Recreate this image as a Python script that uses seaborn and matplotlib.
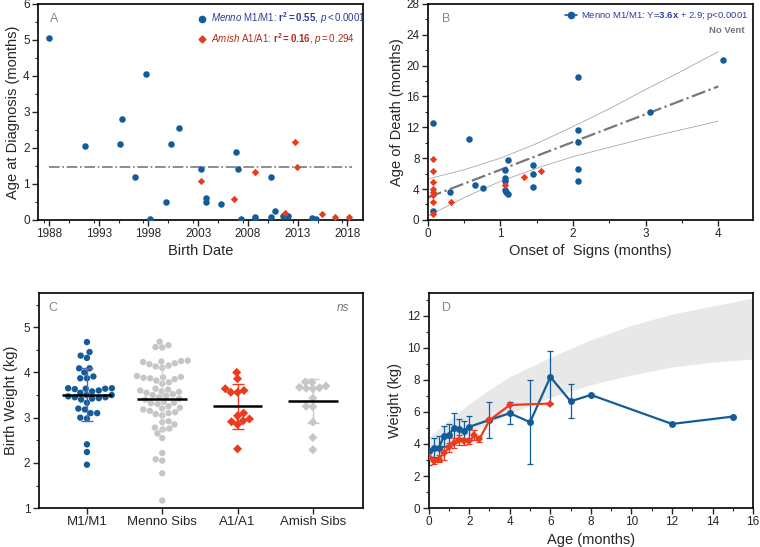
import numpy as np
import pandas as pd
import matplotlib
matplotlib.use('Agg')
import matplotlib.pyplot as plt
from matplotlib.lines import Line2D
from matplotlib.ticker import MultipleLocator
import seaborn as sns

sns.set_style('ticks')
plt.rcParams['font.family'] = ['Liberation Sans', 'DejaVu Sans']
plt.rcParams['mathtext.fontset'] = 'custom'
plt.rcParams['mathtext.rm'] = 'Liberation Sans'
plt.rcParams['mathtext.it'] = 'Liberation Sans:italic'
plt.rcParams['mathtext.bf'] = 'Liberation Sans:bold'

blue = '#135c99'
red = '#ee3a1c'
grey = '#c6c6c6'
navy_txt = '#2b3c9c'
red_txt = '#b02a1a'
label_grey = '#888888'

# ---- panel A: age at diagnosis vs birth date
menno_birth = [1988.0, 1991.6, 1995.1, 1995.3, 1996.7, 1997.8, 1998.2, 1999.8, 2000.3, 2001.1,
               2003.3, 2003.8, 2003.8, 2005.3, 2006.8, 2007.0, 2007.3, 2008.7, 2008.7, 2010.3,
               2010.3, 2010.7, 2011.5, 2012.0, 2014.4, 2014.8]
menno_diag = [5.05, 2.04, 2.10, 2.80, 1.19, 4.04, 0.03, 0.49, 2.10, 2.54,
              1.42, 0.62, 0.49, 0.43, 1.88, 1.42, 0.03, 0.09, 0.03, 1.19,
              0.09, 0.26, 0.12, 0.12, 0.06, 0.03]
amish_birth = [2003.3, 2006.6, 2008.7, 2011.7, 2012.7, 2012.9, 2015.4, 2016.8, 2018.2]
amish_diag = [1.08, 0.58, 1.34, 0.19, 2.16, 1.46, 0.15, 0.08, 0.08]
diag_ref = 1.48

# ---- panel B: age of death vs onset of signs
menno_onset = [0.07, 0.07, 0.30, 0.57, 0.65, 0.76, 1.06, 1.06, 1.06, 1.06, 1.08, 1.10, 1.10,
               1.45, 1.45, 1.45, 2.07, 2.07, 2.07, 2.07, 2.07, 3.06, 4.06]
menno_death = [12.6, 1.16, 3.66, 10.43, 4.48, 4.14, 6.46, 5.39, 5.04, 3.88, 3.62, 3.32, 7.76,
               7.07, 5.95, 4.31, 18.53, 11.68, 10.13, 6.55, 5.08, 14.0, 20.72]
amish_onset = [0.07, 0.07, 0.07, 0.07, 0.07, 0.07, 0.07, 0.07, 0.32, 1.06, 1.33, 1.56]
amish_death = [7.84, 6.38, 4.87, 4.05, 3.62, 3.19, 2.37, 0.73, 2.37, 4.48, 5.60, 6.38]
fit_slope, fit_icept = 3.6, 2.9
ci_x = [0, 0.5, 1, 1.5, 2, 2.5, 3, 3.5, 4]
ci_hi = [5.3, 6.5, 8.0, 9.9, 12.1, 14.4, 16.9, 19.3, 21.8]
ci_lo = [0.5, 2.9, 5.0, 6.7, 8.2, 9.4, 10.6, 11.7, 12.8]

# ---- panel C: birth weight
groups = ['M1/M1', 'Menno Sibs', 'A1/A1', 'Amish Sibs']
bw_m1 = [4.67, 4.45, 4.37, 4.32, 4.09, 4.09, 4.00, 3.91, 3.87, 3.87, 3.65, 3.65, 3.64, 3.64,
         3.63, 3.60, 3.58, 3.55, 3.50, 3.50, 3.47, 3.45, 3.45, 3.43, 3.42, 3.40, 3.33, 3.20,
         3.18, 3.10, 3.10, 3.00, 2.98, 2.41, 2.24, 1.96]
bw_menno_sibs = [4.68, 4.60, 4.56, 4.55, 4.26, 4.25, 4.24, 4.23, 4.20, 4.18, 4.15, 4.13, 4.10,
                 3.92, 3.90, 3.89, 3.88, 3.87, 3.85, 3.82, 3.78, 3.75, 3.64, 3.62, 3.60, 3.58,
                 3.57, 3.55, 3.52, 3.50, 3.48, 3.45, 3.42, 3.40, 3.35, 3.33, 3.32, 3.30, 3.25,
                 3.22, 3.20, 3.18, 3.15, 3.12, 3.10, 3.08, 3.05, 2.92, 2.90, 2.85, 2.78, 2.76,
                 2.74, 2.65, 2.55, 2.22, 2.08, 2.05, 1.77, 1.17]
bw_a1 = [4.00, 3.86, 3.64, 3.60, 3.56, 3.56, 3.10, 2.97, 3.04, 2.91, 2.93, 2.85, 2.31]
bw_amish_sibs = [3.79, 3.78, 3.70, 3.67, 3.66, 3.65, 3.64, 3.43, 3.25, 3.24, 2.90, 2.56, 2.29]
bw_mean = [3.51, 3.42, 3.25, 3.37]
bw_sd = [0.59, 0.69, 0.49, 0.48]

# ---- panel D: weight vs age
d_menno_age = [0, 0.25, 0.5, 0.75, 1, 1.25, 1.5, 1.75, 2, 3, 4, 5, 6, 7, 8, 12, 15]
d_menno_wt = [3.59, 3.78, 3.74, 4.50, 4.57, 5.00, 4.96, 4.84, 5.07, 5.50, 5.92, 5.36, 8.18,
              6.66, 7.06, 5.25, 5.71]
d_menno_sd = [0.0, 0.6, 0.78, 0.65, 0.65, 0.92, 0.6, 0.6, 0.68, 1.1, 0.68, 2.62, 1.62,
              1.06, 0, 0, 0]
d_amish_age = [0, 0.25, 0.5, 0.75, 1, 1.25, 1.5, 1.75, 2, 2.25, 2.5, 3, 4, 6]
d_amish_wt = [3.17, 2.94, 3.09, 3.42, 3.79, 4.08, 4.26, 4.16, 4.16, 4.57, 4.30, 5.48, 6.43, 6.52]
d_amish_sd = [0.45, 0.2, 0.2, 0.4, 0.3, 0.3, 0.3, 0.2, 0.15, 0.3, 0.15, 0, 0, 0]
band_x = [0, 1, 2, 3, 4, 5, 6, 8, 10, 12, 14, 16]
band_lo = [3.0, 3.9, 4.6, 5.3, 5.9, 6.4, 6.9, 7.7, 8.3, 8.8, 9.1, 9.3]
band_hi = [4.4, 5.5, 6.5, 7.4, 8.2, 8.8, 9.4, 10.5, 11.4, 12.1, 12.6, 13.1]

fig = plt.figure(figsize=(7.6, 5.47), dpi=100)
axA = fig.add_axes([0.05, 0.598, 0.428, 0.395])
axB = fig.add_axes([0.563, 0.598, 0.428, 0.395])
axC = fig.add_axes([0.051, 0.071, 0.426, 0.393])
axD = fig.add_axes([0.564, 0.071, 0.427, 0.393])


def style(ax):
    for s in ax.spines.values():
        s.set_linewidth(1.2)
        s.set_color('black')
    ax.tick_params(which='major', length=4, width=1, labelsize=8.5, pad=2)
    ax.tick_params(which='minor', length=2.5, width=0.8)


def panel_label(ax, txt, x=0.05, y=0.93):
    ax.text(x, y, txt, transform=ax.transAxes, color=label_grey, fontsize=9,
            ha='center', va='center')


# A
sns.scatterplot(x=menno_birth, y=menno_diag, color=blue, marker='o', s=22, linewidth=0,
                ax=axA, zorder=3)
sns.scatterplot(x=amish_birth, y=amish_diag, color=red, marker='D', s=14, linewidth=0,
                ax=axA, zorder=3)
axA.hlines(diag_ref, 1988, 2018.5, color='#7a7a7a', ls='-.', lw=1.2, zorder=2)
axA.set_xlim(1986.9, 2019.6)
axA.set_ylim(0, 6)
axA.set_xticks(range(1988, 2019, 5))
axA.xaxis.set_minor_locator(MultipleLocator(2.5))
axA.yaxis.set_minor_locator(MultipleLocator(0.5))
axA.set_xlabel('Birth Date', fontsize=10.5, labelpad=3)
axA.set_ylabel('Age at Diagnosis (months)', fontsize=10.5, labelpad=2)
hA = [Line2D([], [], marker='o', color=blue, ls='none', ms=4.5),
      Line2D([], [], marker='D', color=red, ls='none', ms=3.5)]
labA = [r'$\it{Menno}$ M1/M1: $\mathbf{r^2{=}0.55}$, $\it{p{<}0.0001}$',
        r'$\it{Amish}$ A1/A1: $\mathbf{r^2{=}0.16}$, $\it{p{=}0.294}$']
legA = axA.legend(hA, labA, loc='upper left', bbox_to_anchor=(0.465, 1.0), frameon=False,
                  fontsize=7, handletextpad=0.3, labelspacing=0.45, borderaxespad=0.3,
                  handlelength=1.2)
legA.get_texts()[0].set_color(navy_txt)
legA.get_texts()[1].set_color(red_txt)
panel_label(axA, 'A')
style(axA)

# B
sns.scatterplot(x=menno_onset, y=menno_death, color=blue, marker='o', s=22, linewidth=0,
                ax=axB, zorder=3)
sns.scatterplot(x=amish_onset, y=amish_death, color=red, marker='D', s=14, linewidth=0,
                ax=axB, zorder=3)
fx = np.array([0, 4])
axB.plot(fx, fit_slope * fx + fit_icept, color='#777777', ls='-.', lw=1.6, zorder=2)
axB.plot(ci_x, ci_hi, color='#a8a8a8', lw=0.6, zorder=2)
axB.plot(ci_x, ci_lo, color='#a8a8a8', lw=0.6, zorder=2)
axB.set_xlim(0, 4.48)
axB.set_ylim(0, 28)
axB.set_xticks([0, 1, 2, 3, 4])
axB.set_yticks(range(0, 29, 4))
axB.xaxis.set_minor_locator(MultipleLocator(0.5))
axB.yaxis.set_minor_locator(MultipleLocator(2))
axB.set_xlabel('Onset of  Signs (months)', fontsize=10.5, labelpad=3)
axB.set_ylabel('Age of Death (months)', fontsize=10.5, labelpad=2)
hB = [Line2D([], [], marker='o', color=blue, ls='-', lw=1.2, ms=4.5)]
legB = axB.legend(hB, [r'Menno M1/M1: Y=$\mathbf{3.6x}$ + 2.9; p<0.0001'], loc='upper right',
                  frameon=False, fontsize=6.8, handletextpad=0.4, borderaxespad=0.15,
                  handlelength=1.3)
legB.get_texts()[0].set_color(navy_txt)
axB.text(0.975, 0.875, 'No Vent', transform=axB.transAxes, ha='right', va='center',
         fontsize=6.8, fontweight='bold', color='#777777')
panel_label(axB, 'B', 0.055)
style(axB)

# C
dfC = pd.DataFrame({
    'group': ['M1/M1'] * len(bw_m1) + ['Menno Sibs'] * len(bw_menno_sibs)
             + ['A1/A1'] * len(bw_a1) + ['Amish Sibs'] * len(bw_amish_sibs),
    'weight': bw_m1 + bw_menno_sibs + bw_a1 + bw_amish_sibs,
})
pal = {'M1/M1': blue, 'Menno Sibs': grey, 'A1/A1': red, 'Amish Sibs': grey}
round_g = dfC[dfC['group'].isin(['M1/M1', 'Menno Sibs'])]
diam_g = dfC[dfC['group'].isin(['A1/A1', 'Amish Sibs'])]
sns.swarmplot(data=round_g, x='group', y='weight', hue='group', palette=pal, order=groups,
              size=4.6, marker='o', linewidth=0, legend=False, ax=axC, zorder=2)
sns.swarmplot(data=diam_g, x='group', y='weight', hue='group', palette=pal, order=groups,
              size=4.6, marker='D', linewidth=0, legend=False, ax=axC, zorder=2)
bar_cols = ['#5565b0', '#d2d2d2', red, '#c8c8c8']
for i, (m, sd) in enumerate(zip(bw_mean, bw_sd)):
    axC.errorbar(i, m, yerr=sd, color=bar_cols[i], capsize=4, lw=1, capthick=1, zorder=3)
    axC.hlines(m, i - 0.33, i + 0.33, color='black', lw=1.8, zorder=4)
axC.set_xlim(-0.64, 3.66)
axC.set_ylim(1, 5.75)
axC.set_yticks([1, 2, 3, 4, 5])
axC.yaxis.set_minor_locator(MultipleLocator(0.5))
axC.set_xlabel('')
axC.set_ylabel('Birth Weight (kg)', fontsize=10.5, labelpad=4)
axC.text(0.96, 0.93, 'ns', transform=axC.transAxes, ha='right', va='center', fontsize=8.5,
         style='italic', color='#777777')
panel_label(axC, 'C', 0.045)
style(axC)
axC.tick_params(axis='x', labelsize=9.5)

# D
axD.fill_between(band_x, band_lo, band_hi, color='#e8e8e8', lw=0, zorder=1)
axD.errorbar(d_menno_age, d_menno_wt, yerr=d_menno_sd, fmt='none', ecolor=blue, elinewidth=0.9,
             capsize=2, capthick=0.9, zorder=2)
axD.errorbar(d_amish_age, d_amish_wt, yerr=d_amish_sd, fmt='none', ecolor=red, elinewidth=0.9,
             capsize=2, capthick=0.9, zorder=2)
sns.lineplot(x=d_menno_age, y=d_menno_wt, color=blue, marker='o', markersize=5, lw=1.6,
             markeredgewidth=0, ax=axD, zorder=3)
sns.lineplot(x=d_amish_age, y=d_amish_wt, color=red, marker='D', markersize=4, lw=1.6,
             markeredgewidth=0, ax=axD, zorder=4)
axD.set_xlim(0, 16)
axD.set_ylim(0, 13.4)
axD.set_xticks(range(0, 17, 2))
axD.set_yticks(range(0, 13, 2))
axD.xaxis.set_minor_locator(MultipleLocator(1))
axD.yaxis.set_minor_locator(MultipleLocator(1))
axD.set_xlabel('Age (months)', fontsize=10.5, labelpad=3)
axD.set_ylabel('Weight (kg)', fontsize=10.5, labelpad=4)
panel_label(axD, 'D', 0.055)
style(axD)

fig.savefig('out.png', dpi=100)
